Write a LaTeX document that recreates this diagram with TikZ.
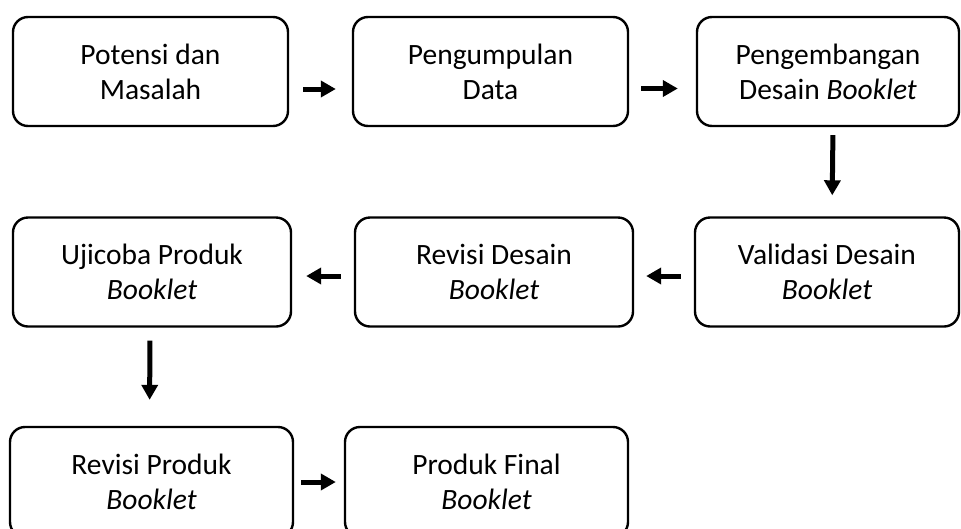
\documentclass[tikz,border=0pt]{standalone}
\usepackage{fontspec}
\setmainfont{Carlito}
\usetikzlibrary{arrows.meta}
\begin{document}
\begin{tikzpicture}[x=1pt,y=-1pt,
  box/.style={draw=black,line width=2.4pt,rounded corners=15pt,align=center,
    inner sep=0pt,font=\fontsize{29.5}{35}\selectfont},
  flow/.style={line width=5pt,-{Triangle[length=15pt,width=16pt]}}]
\useasboundingbox (0,0) rectangle (961,528);
\node[box,minimum width=275pt,minimum height=109pt] (b1) at (150.5,71.5) {Potensi dan\\Masalah};
\node[box,minimum width=275pt,minimum height=109pt] (b2) at (490.5,71.5) {Pengumpulan\\Data};
\node[box,minimum width=262pt,minimum height=109pt] (b3) at (828,71.5) {Pengembangan\\Desain \textit{Booklet}};
\node[box,minimum width=278pt,minimum height=109pt] (b4) at (152,272) {Ujicoba Produk\\\textit{Booklet}};
\node[box,minimum width=278pt,minimum height=109pt] (b5) at (494,272) {Revisi Desain\\\textit{Booklet}};
\node[box,minimum width=264pt,minimum height=109pt] (b6) at (827,272) {Validasi Desain\\\textit{Booklet}};
\node[box,minimum width=283pt,minimum height=110pt] (b7) at (151.5,482) {Revisi Produk\\\textit{Booklet}};
\node[box,minimum width=283pt,minimum height=110pt] (b8) at (486.5,482) {Produk Final\\\textit{Booklet}};
\draw[flow,shorten <=14pt,shorten >=16pt] ([yshift=-17.5pt]b1.east) -- ([yshift=-17.5pt]b2.west);
\draw[flow,shorten <=12pt,shorten >=18pt] ([yshift=-17pt]b2.east) -- ([yshift=-17pt]b3.west);
\draw[flow,shorten <=8pt,shorten >=21pt] ([xshift=5pt]b3.south) -- ([xshift=5pt]b6.north);
\draw[flow,shorten <=13pt,shorten >=12pt] ([yshift=-4pt]b6.west) -- ([yshift=-4pt]b5.east);
\draw[flow,shorten <=13pt,shorten >=14pt] ([yshift=-4pt]b5.west) -- ([yshift=-4pt]b4.east);
\draw[flow,shorten <=13pt,shorten >=26pt] ([xshift=-2pt]b4.south) -- ([xshift=-2pt]b7.north);
\draw[flow,shorten <=7pt,shorten >=8pt] (b7.east) -- (b8.west);
\end{tikzpicture}
\end{document}
